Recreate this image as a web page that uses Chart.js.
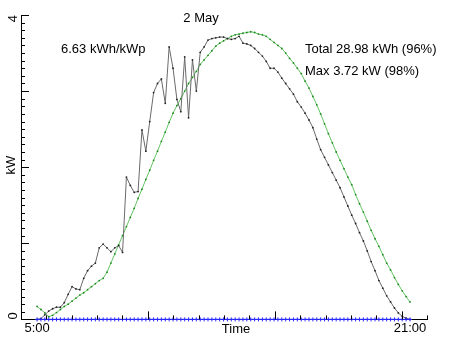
<!DOCTYPE html>
<html>
<head>
<meta charset="utf-8">
<script src="https://cdn.jsdelivr.net/npm/chart.js@4.4.1/dist/chart.umd.min.js"></script>
<style>
  html, body { margin: 0; padding: 0; background: #fff; }
  #wrap { width: 452px; height: 339px; }
</style>
</head>
<body>
<div id="wrap"><canvas id="pv"></canvas></div>
<script>
// samples every 10 minutes from 5:00 to 21:00
const startHour = 5;
const stepMinutes = 10;

// measured output (kW)
const actual = [
  0, 0.01, 0.06, 0.11, 0.14, 0.16, 0.16, 0.22, 0.33, 0.43,
  0.40, 0.39, 0.54, 0.64, 0.70, 0.74, 0.94, 0.99, 0.94, 0.89,
  0.94, 0.97, 0.88, 1.87, 1.76, 1.67, 1.68, 2.49, 2.21, 2.60,
  2.98, 3.10, 3.16, 2.84, 3.58, 3.30, 2.89, 2.73, 3.45, 2.65,
  3.41, 3.00, 3.51, 3.58, 3.67, 3.69, 3.70, 3.71, 3.71, 3.69,
  3.68, 3.69, 3.72, 3.63, 3.62, 3.60, 3.56, 3.51, 3.46, 3.39,
  3.30, 3.30, 3.25, 3.17, 3.10, 3.03, 2.96, 2.86, 2.79, 2.71,
  2.62, 2.52, 2.37, 2.23, 2.13, 2.03, 1.93, 1.83, 1.73, 1.61,
  1.49, 1.37, 1.26, 1.14, 1.03, 0.90, 0.76, 0.64, 0.51, 0.41,
  0.31, 0.23, 0.15, 0.085, 0.04, 0.015, 0
];

// expected output (kW)
const expected = [
  0.17, 0.13, 0.085, 0.035, 0.054, 0.09, 0.13, 0.17, 0.20, 0.24,
  0.28, 0.32, 0.35, 0.39, 0.43, 0.47, 0.51, 0.54, 0.62, 0.74,
  0.86, 0.98, 1.10, 1.22, 1.34, 1.46, 1.59, 1.71, 1.84, 1.96,
  2.09, 2.21, 2.34, 2.46, 2.59, 2.71, 2.81, 2.90, 3.00, 3.10,
  3.18, 3.26, 3.35, 3.41, 3.47, 3.53, 3.59, 3.63, 3.66, 3.69,
  3.72, 3.74, 3.75, 3.76, 3.77, 3.78, 3.77, 3.75, 3.74, 3.72,
  3.68, 3.64, 3.60, 3.56, 3.50, 3.43, 3.37, 3.30, 3.23, 3.13,
  3.04, 2.93, 2.82, 2.70, 2.57, 2.44, 2.32, 2.20, 2.09, 1.98,
  1.87, 1.77, 1.64, 1.52, 1.41, 1.29, 1.17, 1.06, 0.96, 0.85,
  0.74, 0.65, 0.55, 0.46, 0.375, 0.30, 0.23
];

// blue trace (all zero)
const baseline = [
  0, 0, 0, 0, 0, 0, 0, 0, 0, 0,
  0, 0, 0, 0, 0, 0, 0, 0, 0, 0,
  0, 0, 0, 0, 0, 0, 0, 0, 0, 0,
  0, 0, 0, 0, 0, 0, 0, 0, 0, 0,
  0, 0, 0, 0, 0, 0, 0, 0, 0, 0,
  0, 0, 0, 0, 0, 0, 0, 0, 0, 0,
  0, 0, 0, 0, 0, 0, 0, 0, 0, 0,
  0, 0, 0, 0, 0, 0, 0, 0, 0, 0,
  0, 0, 0, 0, 0, 0, 0, 0, 0, 0,
  0, 0, 0, 0, 0, 0, 0
];

const xTickValues = [5, 21];
const xTickLabels = ['5:00', '21:00'];
const yTickValues = [0, 4];
const yTickLabels = ['0', '4'];
const xMin = 4.31, xMax = 21.73;
const yMin = 0, yMax = 4;

const FONT = '13px "Liberation Sans", Arial, sans-serif';

function toPoints(values){
  return values.map((v, i) => ({ x: startHour + i * stepMinutes / 60, y: v }));
}

// inward tick marks, rotated y labels and annotations
const decorations = {
  id: 'decorations',
  afterDraw(chart){
    const { ctx, chartArea: a, scales: { x, y } } = chart;
    ctx.save();
    ctx.strokeStyle = '#000';
    ctx.lineWidth = 1;
    ctx.beginPath();
    for(let k = 0; k <= 40; k++){
      const py = Math.round(y.getPixelForValue(k / 10)) + 0.5;
      const len = k % 10 === 0 ? 8 : 4;
      ctx.moveTo(a.left, py);
      ctx.lineTo(a.left + len, py);
    }
    for(let k = 0; k <= 16; k++){
      const px = Math.round(x.getPixelForValue(xMin + k * (xMax - xMin) / 16)) + 0.5;
      const len = k % 5 === 0 ? 8 : 4;
      ctx.moveTo(px, a.bottom);
      ctx.lineTo(px, a.bottom - len);
    }
    ctx.stroke();

    ctx.fillStyle = '#000';
    ctx.font = FONT;
    ctx.textBaseline = 'middle';

    // rotated y tick labels and title
    yTickValues.forEach((v, i) => {
      ctx.save();
      ctx.translate(13, y.getPixelForValue(v));
      ctx.rotate(-Math.PI / 2);
      ctx.textAlign = v === yMax ? 'right' : 'left';
      ctx.fillText(yTickLabels[i], 0, 0);
      ctx.restore();
    });
    ctx.save();
    ctx.translate(11, 165);
    ctx.rotate(-Math.PI / 2);
    ctx.textAlign = 'center';
    ctx.fillText('kW', 0, 0);
    ctx.restore();

    ctx.textAlign = 'center';
    ctx.fillText('Time', 236, 329);
    ctx.fillText('2 May', 201, 18);

    ctx.textAlign = 'left';
    ctx.fillText('6.63 kWh/kWp', 61, 49);
    ctx.fillText('Total 28.98 kWh (96%)', 305, 49);
    ctx.fillText('Max 3.72 kW (98%)', 305, 71);
    ctx.restore();
  }
};

new Chart(document.getElementById('pv'), {
  type: 'line',
  data: {
    datasets: [
      {
        label: 'baseline',
        data: toPoints(baseline),
        borderColor: '#2a2aff',
        borderWidth: 1,
        pointStyle: 'cross',
        pointRadius: 2,
        pointBorderColor: '#2a2aff',
        pointBorderWidth: 1,
        clip: false
      },
      {
        label: 'actual',
        data: toPoints(actual),
        borderColor: '#6a6a6a',
        borderWidth: 1,
        pointRadius: 0.9,
        pointBorderWidth: 0,
        pointBackgroundColor: '#222',
        clip: false
      },
      {
        label: 'expected',
        data: toPoints(expected),
        borderColor: 'rgb(100,195,100)',
        borderWidth: 1,
        pointRadius: 0.9,
        pointBorderWidth: 0,
        pointBackgroundColor: 'rgb(30,135,30)',
        clip: false
      }
    ]
  },
  options: {
    responsive: true,
    maintainAspectRatio: false,
    animation: false,
    layout: { padding: { left: 21, top: 15, right: 25, bottom: 2 } },
    plugins: { legend: { display: false }, tooltip: { enabled: false } },
    scales: {
      x: {
        type: 'linear',
        min: xMin,
        max: xMax,
        afterBuildTicks: axis => { axis.ticks = xTickValues.map(v => ({ value: v })); },
        ticks: {
          autoSkip: false,
          maxRotation: 0,
          padding: 1,
          color: '#000',
          font: { family: '"Liberation Sans", Arial, sans-serif', size: 13 },
          callback: v => xTickLabels[xTickValues.indexOf(v)]
        },
        grid: { display: false, drawTicks: false },
        border: { display: true, color: '#000', width: 1 }
      },
      y: {
        min: yMin,
        max: yMax,
        ticks: { display: false },
        grid: { display: false, drawTicks: false },
        border: { display: true, color: '#000', width: 1 }
      }
    }
  },
  plugins: [decorations]
});
</script>
</body>
</html>
